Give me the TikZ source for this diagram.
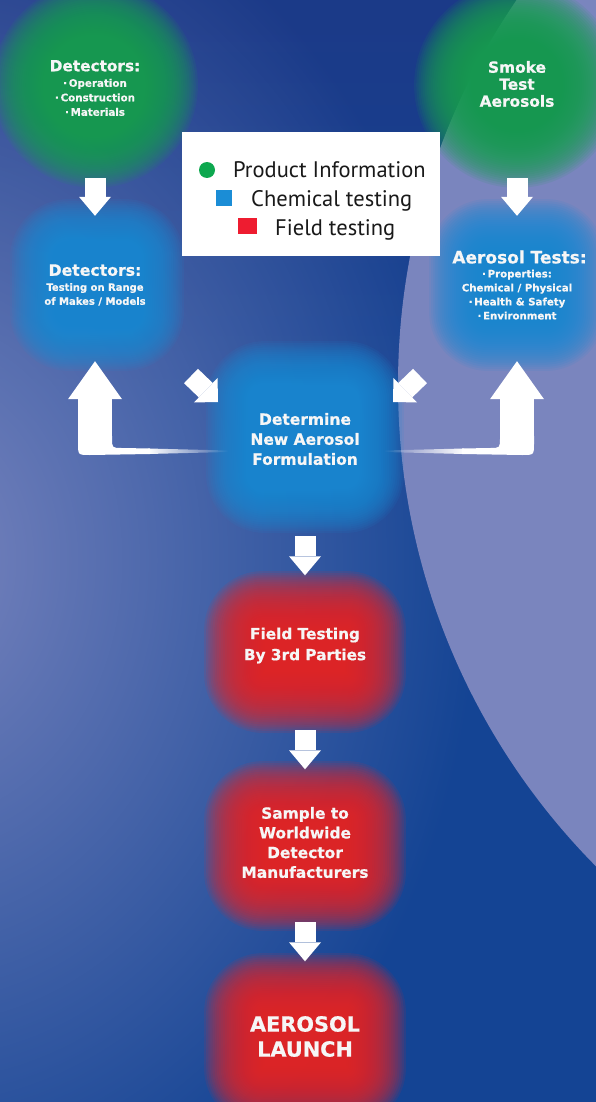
\documentclass[tikz,border=0pt]{standalone}
\usepackage{fontspec}
\setmainfont{DejaVu Sans}
\newfontfamily\heavyfont[FakeBold=0.6]{DejaVu Sans Bold}
\newfontfamily\legendfont{PT Sans}
\usetikzlibrary{arrows.meta,fadings}

\definecolor{bgblue}{RGB}{20,68,148}
\definecolor{navy}{RGB}{28,58,136}
\definecolor{lav}{RGB}{120,132,190}
\definecolor{circlav}{RGB}{122,133,190}
\definecolor{blobgreen}{RGB}{22,160,80}
\definecolor{blobblue}{RGB}{24,140,214}
\definecolor{blobred}{RGB}{232,36,38}
\definecolor{lgreen}{RGB}{14,168,79}
\definecolor{lblue}{RGB}{27,141,214}
\definecolor{lred}{RGB}{238,28,48}
\definecolor{txt}{RGB}{246,246,246}

\tikzfading[name=glowfade, inner color=transparent!0, outer color=transparent!100]
\tikzfading[name=topfade, top color=transparent!0, bottom color=transparent!100]
\tikzfading[name=tailfadeR, left color=transparent!0, right color=transparent!100]
\tikzfading[name=tailfadeL, left color=transparent!100, right color=transparent!0]

\newcommand\softbox[6]{%
  \foreach \k in {0,...,29}{%
    \pgfmathsetmacro\dd{-30+2.1*\k}%
    \pgfmathsetmacro\rr{#6+\dd}%
    \fill[#1, fill opacity=0.1, rounded corners=\rr pt] ({#2-#4-\dd},{#3-#5-\dd}) rectangle ({#2+#4+\dd},{#3+#5+\dd});
  }%
}
\newcommand\softdisc[4]{%
  \foreach \k in {0,...,29}{%
    \pgfmathsetmacro\dd{-30+2.1*\k}%
    \pgfmathsetmacro\rad{#4+\dd}%
    \fill[#1, fill opacity=0.1] (#2,#3) circle[radius=\rad pt];
  }%
}

\tikzset{
  downarrow/.style={draw=white, line width=21pt, -{Triangle[width=32pt,length=19pt,line width=0pt]}},
  uparrow/.style={draw=white, line width=34pt, -{Triangle[width=54pt,length=38pt,line width=0pt]}},
  diagarrow/.style={draw=white, line width=20pt, -{Triangle[width=34pt,length=17pt,line width=0pt]}},
  blobtext/.style={text=txt, align=center, inner sep=0pt},
  legtext/.style={anchor=base west, inner sep=0pt, text=black!90, font=\legendfont\fontsize{22.5}{26}\selectfont},
}

\begin{document}
\begin{tikzpicture}[x=1pt, y=-1pt]
\useasboundingbox (0,0) rectangle (596,1102);
\clip (0,0) rectangle (596,1102);

% background
\fill[bgblue] (0,0) rectangle (596,1102);
\fill[navy, path fading=topfade] (0,0) rectangle (596,420);
\fill[lav, path fading=glowfade] (-80,560) ellipse[x radius=560pt, y radius=720pt];
\fill[circlav] (1082,385) circle[radius=684pt];

% soft blobs
\softdisc{blobgreen}{95}{85}{72}
\softdisc{blobgreen}{517}{85}{72}
\softbox{blobblue}{97}{285}{56}{55}{28}
\softbox{blobblue}{517}{285}{57}{55}{28}
\softbox{blobblue}{305}{437}{68}{65}{28}
\softbox{blobred}{305}{652}{70}{50}{28}
\softbox{blobred}{305}{846}{70}{54}{28}
\softbox{blobred}{305}{1040}{70}{56}{28}

% text nodes
\node[blobtext, circle, minimum size=180pt, font=\heavyfont\fontsize{10.3}{14.5}\selectfont] (g1) at (95,88)
  {{\fontsize{15.3}{17}\selectfont Detectors:}\\[1pt]
   ·\,Operation\\ ·\,Construction\\ ·\,Materials};
\node[blobtext, circle, minimum size=188pt, font=\heavyfont\fontsize{15.4}{17}\selectfont] (g2) at (517,84)
  {Smoke\\ Test\\ Aerosols};
\node[blobtext, minimum width=150pt, minimum height=138pt, font=\heavyfont\fontsize{10}{14}\selectfont] (b1) at (95,285)
  {{\fontsize{15.7}{17}\selectfont Detectors:}\\[1pt]
   Testing on Range\\ of Makes / Models};
\node[blobtext, minimum width=150pt, minimum height=138pt, font=\heavyfont\fontsize{10.2}{14}\selectfont] (b2) at (517,285)
  {{\fontsize{17}{17}\selectfont\hspace*{5pt}Aerosol Tests:}\\[0pt]
   ·\,Properties:\\ Chemical / Physical\\ ·\,Health \& Safety\\ ·\,Environment};
\node[blobtext, minimum width=174pt, minimum height=170pt, font=\heavyfont\fontsize{15.5}{20}\selectfont] (c) at (305,439)
  {Determine\\ New Aerosol\\ Formulation};
\node[blobtext, minimum width=180pt, minimum height=140pt, font=\heavyfont\fontsize{15.3}{21}\selectfont] (r1) at (305,645.5)
  {Field Testing\\ By 3rd Parties};
\node[blobtext, minimum width=180pt, minimum height=146pt, font=\heavyfont\fontsize{15.4}{19.7}\selectfont] (r2) at (305,842.5)
  {Sample to\\ Worldwide\\ Detector\\ Manufacturers};
\node[blobtext, minimum width=180pt, minimum height=150pt, font=\heavyfont\fontsize{20.8}{25}\selectfont] (r3) at (305,1036.5)
  {AEROSOL\\ LAUNCH};

% straight arrows
\draw[downarrow] (g1.south) -- (b1.north);
\draw[downarrow] (g2.south) -- (b2.north);
\draw[downarrow, shorten <=12pt] (c.south) -- (r1.north);
\draw[downarrow, shorten <=14.5pt] (r1.south) -- (r2.north);
\draw[downarrow, shorten <=6.5pt] (r2.south) -- (r3.north);

% diagonal arrows
\coordinate (dlS) at (191,376);
\coordinate (dlT) at (218,402);
\coordinate (drS) at (420,376);
\coordinate (drT) at (393,402);
\draw[diagarrow] (dlS) -- (dlT);
\draw[diagarrow] (drS) -- (drT);

% L-shaped up arrows
\coordinate (lfoot) at (95,440);
\coordinate (rfoot) at (517,440);
\draw[uparrow, shorten >=7pt] (lfoot) -- (b1.south);
\draw[uparrow, shorten >=7pt] (rfoot) -- (b2.south);
\fill[white] (78,436) -- (78,443) .. controls (78,455) .. (90,455) -- (150,454) -- (150,448.5) -- (122,448) .. controls (112,448) .. (112,438) -- (112,436) -- cycle;
\fill[white, path fading=tailfadeR] (148,454) -- (228,452) -- (228,450.5) -- (148,448.5) -- cycle;
\fill[white] (534,436) -- (534,443) .. controls (534,455) .. (522,455) -- (462,454) -- (462,448.5) -- (490,448) .. controls (500,448) .. (500,438) -- (500,436) -- cycle;
\fill[white, path fading=tailfadeL] (464,454) -- (384,452) -- (384,450.5) -- (464,448.5) -- cycle;

% legend
\node[fill=white, minimum width=258pt, minimum height=124pt, inner sep=0pt] (legend) at (311,194) {};
\node[circle, fill=lgreen, minimum size=16pt, inner sep=0pt] (lg) at (207,170) {};
\node[fill=lblue, minimum size=16pt, inner sep=0pt] (lb) at (224,198) {};
\node[fill=lred, minimum width=19pt, minimum height=16pt, inner sep=0pt] (lr) at (247,226) {};
\node[legtext] (lt1) at (233,178) {Product Information};
\node[legtext] (lt2) at (251,207) {Chemical testing};
\node[legtext] (lt3) at (275,235) {Field testing};
\end{tikzpicture}
\end{document}
